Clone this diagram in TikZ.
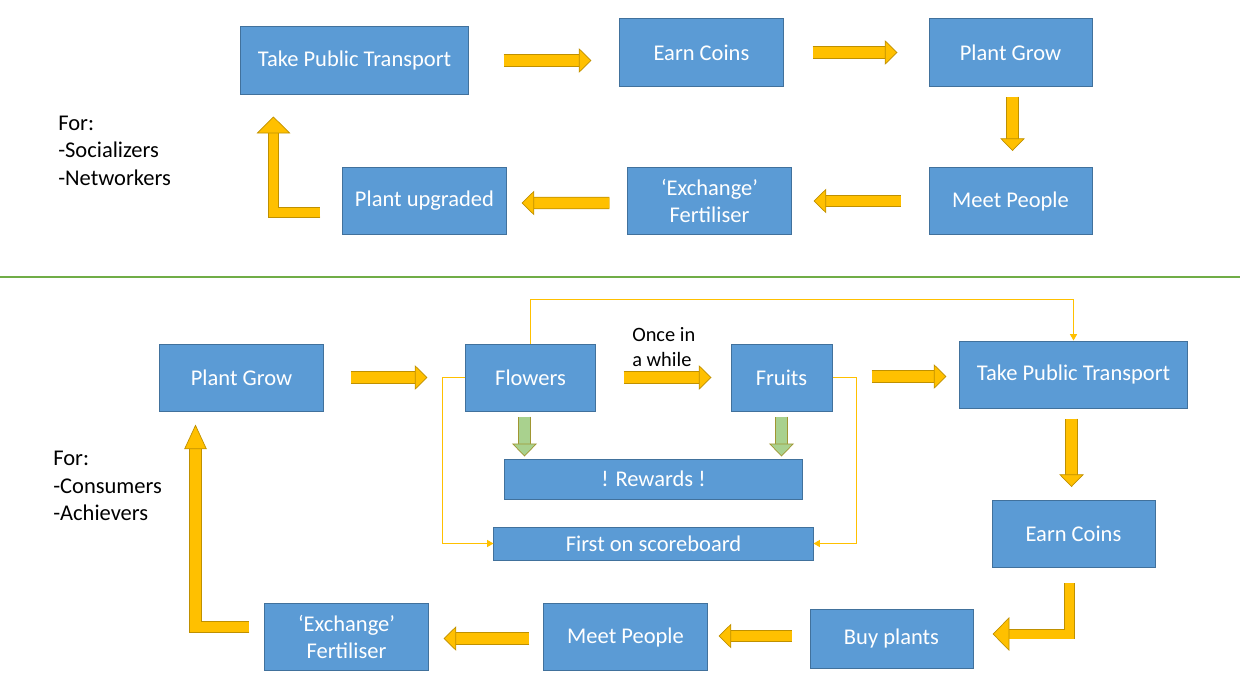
\documentclass[tikz,border=0pt]{standalone}
\usepackage{fontspec}
\setmainfont{Carlito}
\usetikzlibrary{arrows.meta,calc}
\definecolor{BoxFill}{RGB}{91,155,213}
\definecolor{BoxLine}{RGB}{65,113,156}
\definecolor{ArrowFill}{RGB}{255,192,0}
\definecolor{ArrowLine}{RGB}{191,144,0}
\definecolor{GreenFill}{RGB}{169,209,142}
\definecolor{GreenLine}{RGB}{160,150,50}
\definecolor{SepLine}{RGB}{112,173,71}

\begin{document}
\begin{tikzpicture}[x=0.025cm,y=-0.025cm]

    \tikzset{
      BoxStyle/.style = { rectangle, draw=BoxLine, fill=BoxFill, line width=0.7pt,
                          text=white, align=center, inner sep=0pt,
                          font=\fontsize{16}{19.5}\selectfont,
                          minimum width=4.075cm, minimum height=1.675cm },
      WideStyle/.style = { BoxStyle, minimum width=5.675cm },
      TextStyle/.style = { anchor=north west, align=left, inner sep=0pt,
                           font=\fontsize{16}{19.5}\selectfont },
      ArrowStyle/.style = { draw=ArrowLine, line width=0.5pt, line join=miter,
                            double=ArrowFill, double distance=7.6pt,
                            -{Triangle[width=17.5pt, length=9pt, line width=0.5pt, fill=ArrowFill]} },
      BentStyle/.style = { ArrowStyle, double distance=6.4pt,
                           -{Triangle[width=24pt, length=12pt, line width=0.5pt, fill=ArrowFill]} },
      UpStyle/.style = { ArrowStyle,
                         -{Triangle[width=16pt, length=17.5pt, line width=0.5pt, fill=ArrowFill]} },
      GreenStyle/.style = { draw=GreenLine, line width=0.5pt, double=GreenFill, double distance=8.2pt,
                            -{Triangle[width=17.7pt, length=9.2pt, line width=0.5pt, fill=GreenFill]} },
      LinkStyle/.style = { draw=ArrowFill, line width=0.7pt,
                           -{Triangle[width=5pt, length=4.5pt]} } }

    \useasboundingbox (0,0) rectangle (1240,697);

    % Socializers / Networkers
    \node[WideStyle] (tpt1) at (354.5,60.5) {Take Public Transport};
    \node[BoxStyle] (coins1) at (701.5,52.5) {Earn Coins};
    \node[BoxStyle] (grow1) at (1010.5,52.5) {Plant Grow};
    \node[BoxStyle] (meet1) at (1010.5,201) {Meet People};
    \node[BoxStyle] (fert1) at (709.5,201) {‘Exchange’\\Fertiliser};
    \node[BoxStyle] (upgraded) at (424.5,200.5) {Plant upgraded};
    \node[TextStyle] (for1) at (58,115.5) {For:\\-Socializers\\-Networkers};

    \draw[ArrowStyle] ($(tpt1.east)+(35,0)$) -- ($(tpt1.east -| coins1.west)+(-28,0)$);
    \draw[ArrowStyle] ($(coins1.east)+(29,0)$) -- ($(grow1.west)+(-31,0)$);
    \draw[ArrowStyle] ($(grow1.south)+(2,10)$) -- ($(meet1.north)+(2,-16)$);
    \draw[ArrowStyle] ($(meet1.west)+(-28,0)$) -- ($(fert1.east)+(22,0)$);
    \draw[ArrowStyle] ($(fert1.west)+(-18,2)$) -- ($(upgraded.east)+(15,2.5)$);
    \draw[BentStyle] ($(upgraded.west)+(-22,12)$) -| ($(tpt1.south west)+(33,22)$);

    \draw[SepLine, line width=0.8pt] (0,277) -- (1240,277);

    % Consumers / Achievers
    \node[BoxStyle] (grow2) at (241.5,377.5) {Plant Grow};
    \node[BoxStyle, minimum width=3.225cm] (flowers) at (530.5,377.5) {Flowers};
    \node[BoxStyle, minimum width=2.525cm] (fruits) at (781.5,377.5) {Fruits};
    \node[WideStyle] (tpt2) at (1073.5,374.5) {Take Public Transport};
    \node[BoxStyle] (coins2) at (1073.5,534) {Earn Coins};
    \node[BoxStyle, minimum height=1.475cm] (buy) at (891.5,638.5) {Buy plants};
    \node[BoxStyle] (meet2) at (625.5,637) {Meet People};
    \node[BoxStyle] (fert2) at (346.5,637) {‘Exchange’\\Fertiliser};
    \node[BoxStyle, minimum width=7.425cm, minimum height=1cm] (rewards) at (653.5,479) {! Rewards !};
    \node[BoxStyle, minimum width=7.975cm, minimum height=0.825cm] (score) at (653.5,543.5) {First on scoreboard};
    \node[TextStyle] (for2) at (53,451) {For:\\-Consumers\\-Achievers};
    \node[TextStyle, font=\fontsize{14.5}{17.7}\selectfont] (once) at (632,327) {Once in\\a while};

    \draw[ArrowStyle] ($(grow2.east)+(27,0)$) -- ($(flowers.west)+(-38,0)$);
    \draw[ArrowStyle] ($(flowers.east)+(28,0)$) -- ($(fruits.west)+(-19,0)$);
    \draw[ArrowStyle] ($(fruits.east)+(39,-1)$) -- ($(fruits.east -| tpt2.west)+(-13,-1)$);
    \draw[ArrowStyle] ($(tpt2.south)+(-2,10)$) -- ($(coins2.north)+(-2,-13)$);
    \draw[BentStyle] ($(coins2.south)+(-4,15)$) |- ($(buy.east)+(19,-4.5)$);
    \draw[ArrowStyle] ($(buy.west)+(-18,-2.5)$) -- ($(meet2.east)+(11,-1)$);
    \draw[ArrowStyle] ($(meet2.west)+(-14,1.5)$) -- ($(fert2.east)+(15,1.5)$);
    \draw[UpStyle] ($(fert2.west)+(-15,-10)$) -| ($(grow2.south west)+(36,13)$);

    \draw[GreenStyle] ($(flowers.south)+(-6,5)$) -- ($(flowers.south |- rewards.north)+(-6,-2)$);
    \draw[GreenStyle] ($(fruits.south)+(0,5)$) -- ($(fruits.south |- rewards.north)+(0,-2)$);

    \draw[LinkStyle] (flowers.north) -- ++(0,-44) -| (tpt2.north);
    \draw[LinkStyle] (flowers.west) -- ++(-23,0) |- (score.west);
    \draw[LinkStyle] (fruits.east) -- ++(24,0) |- (score.east);
\end{tikzpicture}
\end{document}
